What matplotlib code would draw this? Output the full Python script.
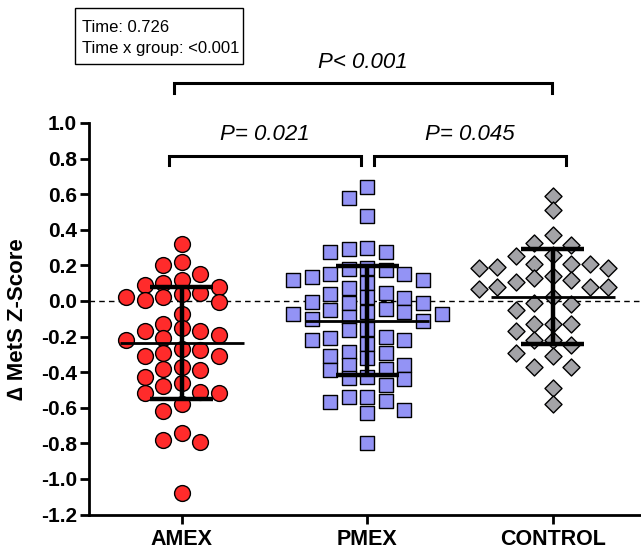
import numpy as np
import matplotlib

matplotlib.use("Agg")
import matplotlib.pyplot as plt
from matplotlib.patches import Rectangle

plt.rcParams["font.family"] = ["Liberation Sans", "DejaVu Sans"]

GROUPS = ["AMEX", "PMEX", "CONTROL"]

amex = [0.32, 0.20, 0.22, 0.15, 0.12, 0.09, 0.10, 0.077, 0.047, 0.024, 0.005,
        -0.004, 0.024, 0.04, -0.073, -0.15, -0.13, -0.17, -0.17, -0.19, -0.22,
        -0.21, -0.275, -0.27, -0.31, -0.31, -0.29, -0.39, -0.37, -0.43, -0.38,
        -0.51, -0.46, -0.52, -0.48, -0.52, -0.62, -0.58, -0.78, -0.79, -0.74,
        -1.08]

pmex = [0.64, 0.577, 0.48, 0.29, 0.277, 0.277, 0.30, 0.174, 0.10, 0.15, 0.118,
        0.184, 0.118, 0.133, 0.15, 0.18, 0.07, 0.047, 0.02, -0.013, -0.004,
        0.015, -0.013, 0.04, -0.047, -0.05, -0.064, -0.075, -0.10, -0.11,
        -0.088, -0.073, -0.06, -0.163, -0.16, -0.20, -0.22, -0.24, -0.22,
        -0.21, -0.285, -0.29, -0.31, -0.32, -0.39, -0.36, -0.36, -0.425,
        -0.44, -0.435, -0.38, -0.47, -0.54, -0.56, -0.61, -0.63, -0.57, -0.54,
        -0.80]

control = [0.59, 0.51, 0.37, 0.315, 0.324, 0.258, 0.25, 0.19, 0.21, 0.21,
           0.208, 0.184, 0.184, 0.14, 0.12, 0.13, 0.08, 0.077, 0.108, 0.066,
           0.08, 0.02, -0.01, -0.017, -0.05, -0.13, -0.13, -0.13, -0.17, -0.22,
           -0.22, -0.25, -0.29, -0.31, -0.37, -0.37, -0.49, -0.58]

stats_lines = ["Time: 0.726", "Time x group: <0.001"]
pairs = [(0, 2, "P< 0.001"), (0, 1, "P= 0.021"), (1, 2, "P= 0.045")]

STYLES = [
    dict(marker="o", s=130, color="#ff2b2b"),
    dict(marker="s", s=95, color="#9393f5"),
    dict(marker="D", s=75, color="#a3a3a7"),
]


def swarm(values, slot=0.1, gap=0.075):
    # simple gridded beeswarm: each point takes the nearest free column
    placed = []
    xs = np.zeros(len(values))
    order = np.argsort(values)[::-1]
    for i in order:
        v = values[i]
        for k in range(12):
            for off in ([0] if k == 0 else [-k, k]):
                if all(not (o == off and abs(pv - v) < gap) for o, pv in placed):
                    break
            else:
                continue
            break
        placed.append((off, v))
        xs[i] = off * slot
    return xs


fig = plt.figure(figsize=(6.41, 5.49), dpi=100)
ax = fig.add_axes([0.1388, 0.0628, 0.8596, 0.7132])

for gi, vals in enumerate([amex, pmex, control]):
    vals = np.array(vals)
    xs = gi + swarm(vals)
    st = STYLES[gi]
    ax.scatter(xs, vals, marker=st["marker"], s=st["s"], facecolor=st["color"],
               edgecolor="black", linewidth=1.0, zorder=3)
    m = vals.mean()
    sd = vals.std(ddof=1)
    ax.hlines(m, gi - 0.335, gi + 0.335, color="black", lw=2, zorder=4)
    ax.hlines([m - sd, m + sd], gi - 0.17, gi + 0.17, color="black", lw=3.2, zorder=4)
    ax.vlines(gi, m - sd, m + sd, color="black", lw=3.2, zorder=4)

ax.axhline(0, color="black", lw=1, ls=(0, (4, 3)), zorder=1)

yt = np.round(np.arange(-1.2, 1.01, 0.2), 1) + 0.0
ax.set_xlim(-0.501, 2.47)
ax.set_ylim(-1.2, 1.0)
ax.set_yticks(yt)
ax.set_yticklabels([f"{t:.1f}" for t in yt])
ax.set_xticks(range(len(GROUPS)))
ax.set_xticklabels(GROUPS)
for lab in ax.get_yticklabels():
    lab.set_fontsize(15)
    lab.set_fontweight("bold")
for lab in ax.get_xticklabels():
    lab.set_fontsize(15.5)
    lab.set_fontweight("bold")
ax.tick_params(axis="both", direction="out", length=6.5, width=2, pad=2)
ax.tick_params(axis="x", pad=4)

for side in ["top", "right"]:
    ax.spines[side].set_visible(False)
for side in ["left", "bottom"]:
    ax.spines[side].set_linewidth(2)

ax.set_ylabel("\u2206 MetS Z-Score", fontsize=16, fontweight="bold")
ax.yaxis.set_label_coords(-0.111, 0.5)

# significance brackets
bracket_y = {(0, 2): 1.222, (0, 1): 0.815, (1, 2): 0.815}
bracket_x = {(0, 2): (-0.04, 1.995), (0, 1): (-0.07, 0.965), (1, 2): (1.035, 2.07)}
for a, b, txt in pairs:
    x0, x1 = bracket_x[(a, b)]
    y = bracket_y[(a, b)]
    ax.plot([x0, x0, x1, x1], [y - 0.053, y, y, y - 0.053], color="black",
            lw=2.2, clip_on=False, solid_joinstyle="miter")
    ax.text((x0 + x1) / 2, y + 0.12, txt, ha="center", va="center",
            fontsize=16, style="italic", clip_on=False)

# stats box
W, H = 641, 549
fig.patches.append(Rectangle((75 / W, 1 - 64 / H), 168 / W, 56 / H,
                             transform=fig.transFigure, facecolor="white",
                             edgecolor="black", lw=1))
for i, line in enumerate(stats_lines):
    fig.text(82 / W, 1 - (27 + 21 * i) / H, line, ha="left", va="center",
             fontsize=12)

fig.savefig("out.png", dpi=100)
